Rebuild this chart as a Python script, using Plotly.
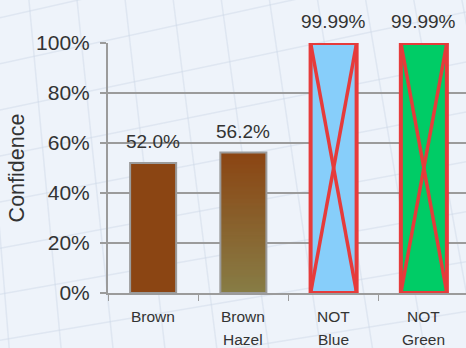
import plotly.graph_objects as go

# Eye-colour prediction confidences
categories = ["Brown", "Brown<br>Hazel", "NOT<br>Blue", "NOT<br>Green"]
values = [0.520, 0.562, 0.9999, 0.9999]
label_decimals = [1, 1, 2, 2]
y_ticks = [0, 0.2, 0.4, 0.6, 0.8, 1.0]

BG = "#EEF3FA"
GRID = "#9B9B9B"
TEXT = "#333333"
FONT = "Liberation Sans, Arial, Helvetica, sans-serif"
BAR_W = 0.51
RED = "#E63B3B"

W, H = 466, 348
ML, MR, MT, MB = 108, 0, 43, 55

fig = go.Figure()

# Brown: solid bar
fig.add_trace(go.Bar(
    x=[categories[0]], y=[values[0]], width=BAR_W,
    marker=dict(color="#8B4513", line=dict(color=GRID, width=2)),
    cliponaxis=False, hoverinfo="skip",
))

# Brown/Hazel: vertical gradient built from thin stacked slices
n_slices = 150
bottom_rgb = (135, 125, 70)
top_rgb = (139, 69, 19)
seg = values[1] / n_slices
slice_colors, slice_base, slice_h = [], [], []
for i in range(n_slices):
    t = (i + 0.5) / n_slices
    r, g, b = (round(bottom_rgb[k] + (top_rgb[k] - bottom_rgb[k]) * t) for k in range(3))
    slice_colors.append(f"rgb({r},{g},{b})")
    slice_base.append(i * seg)
    slice_h.append(min(3 * seg, values[1] - i * seg))
fig.add_trace(go.Bar(
    x=[categories[1]] * n_slices, y=slice_h, base=slice_base,
    width=BAR_W,
    marker=dict(color=slice_colors, line=dict(width=0)),
    hoverinfo="skip",
))
fig.add_trace(go.Bar(
    x=[categories[1]], y=[values[1]], width=BAR_W,
    marker=dict(color="rgba(0,0,0,0)", line=dict(color=GRID, width=2)),
    cliponaxis=False, hoverinfo="skip",
))

# Ruled-out colours: filled bars with a red border and cross
for cat, val, fill in [(categories[2], values[2], "#87CEFA"),
                       (categories[3], values[3], "#00CC66")]:
    fig.add_trace(go.Bar(
        x=[cat], y=[val], width=BAR_W,
        marker=dict(color=fill, line=dict(color=RED, width=4)),
        cliponaxis=False, hoverinfo="skip",
    ))
    idx = categories.index(cat)
    for (ya, yb) in [(0, val), (val, 0)]:
        fig.add_shape(type="line", xref="x", yref="y",
                      x0=idx - BAR_W / 2, x1=idx + BAR_W / 2, y0=ya, y1=yb,
                      line=dict(color=RED, width=3.5))

# value labels above the bars
for cat, val, d in zip(categories, values, label_decimals):
    fig.add_annotation(x=cat, y=val, text=f"{val * 100:.{d}f}%",
                       showarrow=False, yanchor="bottom", yshift=9,
                       font=dict(family=FONT, size=19, color=TEXT))

# two-line category labels with roomier line spacing
for cat in categories:
    for line_no, part in enumerate(cat.split("<br>")):
        fig.add_annotation(x=cat, y=0, xref="x", yref="paper", text=part,
                           showarrow=False, yanchor="top",
                           yshift=-13 - 23 * line_no,
                           font=dict(family=FONT, size=15.5, color=TEXT))


# faint sheared grid texture on the page background
def px_to_paper(px, py):
    return (px - ML) / (W - ML - MR), (H - MB - py) / (H - MT - MB)


tex_color = "rgba(205,215,230,0.45)"
for k in range(-2, 12):
    xa, ya = px_to_paper(-20 + 48 * k, -10)
    xb, yb = px_to_paper(10 + 52 * k, H + 10)
    fig.add_shape(type="line", xref="paper", yref="paper", layer="below",
                  x0=xa, y0=ya, x1=xb, y1=yb, line=dict(color=tex_color, width=1.5))
for k in range(-2, 12):
    xa, ya = px_to_paper(-10, 20 + 46 * k)
    xb, yb = px_to_paper(W + 10, -90 + 50 * k)
    fig.add_shape(type="line", xref="paper", yref="paper", layer="below",
                  x0=xa, y0=ya, x1=xb, y1=yb, line=dict(color=tex_color, width=1.5))

fig.update_layout(
    width=W, height=H,
    margin=dict(l=ML, r=MR, t=MT, b=MB),
    paper_bgcolor=BG, plot_bgcolor="rgba(0,0,0,0)",
    barmode="overlay", showlegend=False,
    font=dict(family=FONT, color=TEXT),
)
fig.update_xaxes(
    type="category", categoryorder="array", categoryarray=categories,
    range=[-0.5, 3.467], tickson="boundaries",
    showgrid=False, showline=True, linecolor=GRID, linewidth=2,
    ticks="outside", ticklen=6, tickwidth=1, tickcolor=GRID,
    showticklabels=False, fixedrange=True,
)
fig.update_yaxes(
    range=[0, 1], tickvals=y_ticks, tickformat=".0%",
    showgrid=True, gridcolor=GRID, gridwidth=2,
    showline=True, linecolor=GRID, linewidth=2, zeroline=False,
    ticks="outside", ticklen=6, tickwidth=2, tickcolor=GRID,
    tickfont=dict(family=FONT, size=21, color=TEXT),
    ticklabelstandoff=6,
    title=dict(text="Confidence", font=dict(family=FONT, size=21.5, color=TEXT), standoff=6),
    fixedrange=True,
)

fig.write_html("out.html")
